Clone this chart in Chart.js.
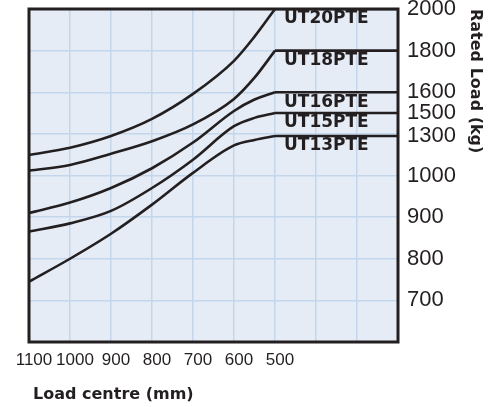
<!DOCTYPE html>
<html>
<head>
<meta charset="utf-8">
<script src="https://cdn.jsdelivr.net/npm/chart.js@4.4.1/dist/chart.umd.min.js"></script>
<style>
  html, body { margin: 0; padding: 0; background: #fff; }
  canvas { display: block; }
</style>
</head>
<body>
<canvas id="load-chart" width="500" height="407"></canvas>
<script>
// load centre (mm) along the bottom
const loadCentre = [1100, 1000, 900, 800, 700, 600, 550, 500];
// the rated load holds flat from 500 mm to the right edge
const flatCentre = [500, 200];

// rated load (kg) for each truck at those load centres
const seriesNames = ["UT20PTE", "UT18PTE", "UT16PTE", "UT15PTE", "UT13PTE"];
const ut20 = [1156, 1211, 1300, 1449, 1592, 1751, 1867, 2000];
const ut18 = [1037, 1080, 1165, 1260, 1401, 1568, 1670, 1800];
const ut16 = [910, 935, 970, 1055, 1250, 1510, 1565, 1600];
const ut15 = [865, 885, 915, 970, 1120, 1385, 1458, 1500];
const ut13 = [745, 800, 860, 930, 1020, 1228, 1270, 1300];
const ratedLoad = [2000, 1800, 1600, 1500, 1300];

// tick labels
const xTickLabels = [1100, 1000, 900, 800, 700, 600, 500];
const loadTicks = [700, 800, 900, 1000, 1300, 1500, 1600, 1800, 2000];
// the right axis is not linear: grid row each tick sits on
const loadRows = [1, 2, 3, 4, 4.95, 5.5, 6, 7, 8];

const ink = "#231f20";
const gridBlue = "#c4d6eb";

// kg -> grid row, piecewise along the printed axis
function rowOf(kg) {
    if (kg <= loadTicks[0]) return loadRows[0] - (loadTicks[0] - kg) / 100;
    for (var i = 1; i < loadTicks.length; i++) {
        if (kg <= loadTicks[i]) {
            var f = (kg - loadTicks[i - 1]) / (loadTicks[i] - loadTicks[i - 1]);
            return loadRows[i - 1] + f * (loadRows[i] - loadRows[i - 1]);
        }
    }
    return loadRows[loadRows.length - 1];
}

function lineStyle(extra) {
    return Object.assign({
        borderColor: ink,
        borderWidth: 2.6,
        pointRadius: 0,
        fill: false
    }, extra);
}

const allSeries = [ut20, ut18, ut16, ut15, ut13];
const datasets = [];
allSeries.forEach(function (vals, i) {
    datasets.push(lineStyle({
        label: seriesNames[i],
        data: loadCentre.map(function (c, j) { return { x: c, y: rowOf(vals[j]) }; }),
        cubicInterpolationMode: "monotone"
    }));
});
allSeries.forEach(function (vals, i) {
    datasets.push(lineStyle({
        label: seriesNames[i] + " max",
        data: flatCentre.map(function (c) { return { x: c, y: rowOf(ratedLoad[i]) }; }),
        tension: 0
    }));
});

// plot background + frame, and the text drawn on the plot
const decor = {
    id: "decor",
    beforeDraw(chart) {
        const a = chart.chartArea;
        const ctx = chart.ctx;
        ctx.save();
        ctx.fillStyle = "#e5ecf5";
        ctx.fillRect(a.left, a.top, a.right - a.left, a.bottom - a.top);
        ctx.restore();
    },
    afterDatasetsDraw(chart) {
        const a = chart.chartArea;
        const ctx = chart.ctx;
        ctx.save();
        ctx.strokeStyle = ink;
        ctx.lineWidth = 3;
        ctx.strokeRect(a.left, a.top, a.right - a.left, a.bottom - a.top);

        ctx.fillStyle = ink;
        ctx.textBaseline = "middle";
        ctx.font = 'bold 17px "DejaVu Sans"';
        seriesNames.forEach(function (name, i) {
            // first point of the flat line for this truck
            var p = chart.getDatasetMeta(seriesNames.length + i).data[0];
            ctx.fillText(name, p.x + 9, p.y + 10);
        });

        ctx.font = 'bold 16px "DejaVu Sans"';
        ctx.fillText("Load centre (mm)", a.left + 4, chart.height - 12);
        ctx.restore();
    }
};

const config = {
    type: "line",
    data: { datasets: datasets },
    options: {
        responsive: false,
        animation: false,
        layout: { padding: { left: 29, top: 9, right: 15, bottom: 2 } },
        plugins: { legend: { display: false }, tooltip: { enabled: false } },
        scales: {
            x: {
                type: "linear",
                reverse: true,
                min: 200,
                max: 1100,
                grid: { color: gridBlue, lineWidth: 1.5, drawTicks: false },
                border: { display: false },
                ticks: {
                    stepSize: 100,
                    autoSkip: false,
                    maxRotation: 0,
                    padding: 8,
                    labelOffset: 5,
                    color: ink,
                    font: { family: '"Liberation Sans", Arial, sans-serif', size: 17 },
                    callback: function (v) { return xTickLabels.indexOf(v) >= 0 ? String(v) : ""; }
                },
                afterFit: function (s) {
                    s.height = 63;
                    s.paddingLeft = 0;
                    s.paddingRight = 0;
                }
            },
            y: {
                position: "left",
                min: 0,
                max: 8,
                grid: { color: gridBlue, lineWidth: 1.5, drawTicks: false },
                border: { display: false },
                ticks: { display: false, stepSize: 1 },
                afterFit: function (s) {
                    s.width = 0;
                    s.paddingTop = 0;
                    s.paddingBottom = 0;
                }
            },
            yLoad: {
                position: "right",
                min: 0,
                max: 8,
                grid: { display: false, drawTicks: false },
                border: { display: false },
                afterBuildTicks: function (s) {
                    s.ticks = loadTicks.map(function (v) { return { value: rowOf(v) }; });
                },
                ticks: {
                    autoSkip: false,
                    padding: 9,
                    color: ink,
                    font: { family: '"Liberation Sans", Arial, sans-serif', size: 22 },
                    callback: function (v, i) { return String(loadTicks[i]); }
                },
                title: {
                    display: true,
                    text: "Rated Load (kg)",
                    align: "end",
                    color: ink,
                    padding: { top: 0, bottom: 0 },
                    font: { family: '"DejaVu Sans"', size: 16, weight: "bold" }
                },
                afterFit: function (s) {
                    s.width = 87;
                    s.paddingTop = 0;
                    s.paddingBottom = 0;
                }
            }
        }
    },
    plugins: [decor]
};

const loadChart = new Chart(document.getElementById("load-chart"), config);
</script>
</body>
</html>
